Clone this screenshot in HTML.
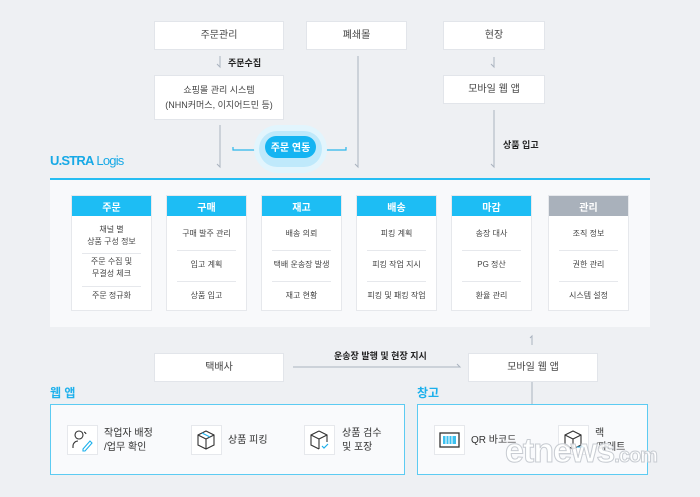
<!DOCTYPE html>
<html><head><meta charset="utf-8"><style>
*{margin:0;padding:0;box-sizing:border-box}
body{width:700px;height:497px;background:#eef0f3;position:relative;overflow:hidden;font-family:"Liberation Sans","Noto Sans CJK KR",sans-serif;color:#333}
.a{position:absolute}
.box{position:absolute;background:#fff;border:1px solid #e2e5ea;display:flex;align-items:center;justify-content:center;text-align:center;font-size:10px;color:#444;line-height:15px}
.lbl{position:absolute;font-size:9px;font-weight:bold;color:#222;white-space:nowrap}
.col{position:absolute;top:195px;width:81px;height:116px;background:#fff;border:1px solid #e6e8ec}
.col .h{height:20px;background:#1dbdf4;color:#fff;font-size:10px;font-weight:bold;display:flex;align-items:center;justify-content:center}
.col .r{position:absolute;left:10px;right:10px;text-align:center;font-size:8px;color:#444;line-height:12px;display:flex;align-items:center;justify-content:center}
.col .sep{position:absolute;left:10px;right:10px;border-top:1px solid #e6e8ec}
.ic{position:absolute;top:425px;width:31px;height:30px;background:#fff;border:1px solid #e6e8ec}
.it{position:absolute;font-size:10px;color:#333;line-height:14px;white-space:nowrap}
</style></head><body>
<svg class="a" style="left:0;top:0" width="700" height="497">
<g stroke="#aab3bf" stroke-width="1" fill="none">
<path d="M220 56V67l-3-3"/>
<path d="M220 125V167l-3-3"/>
<path d="M358 56V167l-3-3"/>
<path d="M494 57V67l-3-3"/>
<path d="M494 110V167l-3-3"/>
<path d="M293 367H460l-3-3"/>
<path d="M532 345V336l-2 2"/>
<path d="M532 382V405"/>
</g>
<g stroke="#2bb6ea" stroke-width="1.2" fill="none">
<path d="M233 147v3H346v-3"/>
<path d="M162 441H183l-3-2"/>
<path d="M275 441H297l-3-2"/>
<path d="M529 441H550l-3-2"/>
</g>
<rect x="254" y="125" width="73" height="48" rx="24" fill="#e2f5fd"/>
<rect x="259" y="131" width="63" height="36" rx="18" fill="#bfe9fb"/>
<rect x="265" y="136" width="51" height="22" rx="11" fill="#14b4f2"/>
<text x="290.5" y="151" font-size="10" font-weight="bold" fill="#fff" text-anchor="middle" font-family="Liberation Sans,Noto Sans CJK KR,sans-serif">주문 연동</text>
</svg>
<div class="box" style="left:154px;top:21px;width:130px;height:29px">주문관리</div>
<div class="box" style="left:306px;top:21px;width:101px;height:29px">폐쇄몰</div>
<div class="box" style="left:443px;top:21px;width:102px;height:29px">현장</div>
<div class="lbl" style="left:228px;top:56px">주문수집</div>
<div class="box" style="left:154px;top:75px;width:130px;height:45px;font-size:9px">쇼핑몰 관리 시스템<br>(NHN커머스, 이지어드민 등)</div>
<div class="box" style="left:443px;top:75px;width:102px;height:29px">모바일 웹 앱</div>
<div class="lbl" style="left:503px;top:138px">상품 입고</div>
<div class="a" style="left:50px;top:153px;font-size:13px;color:#17a9e6;letter-spacing:-0.8px;white-space:nowrap"><b>U.STRA</b> Logis</div>
<div class="a" style="left:50px;top:178px;width:600px;height:149px;background:#f8f9fb;border-top:2px solid #26bdf2"></div>

<div class="col" style="left:71px"><div class="h">주문</div>
<div class="r" style="top:28px;height:24px">채널 별<br>상품 구성 정보</div><div class="sep" style="top:57px"></div>
<div class="r" style="top:60px;height:24px">주문 수집 및<br>무결성 체크</div><div class="sep" style="top:90px"></div>
<div class="r" style="top:92px;height:16px">주문 정규화</div></div>
<div class="col" style="left:166px"><div class="h">구매</div>
<div class="r" style="top:30px;height:16px">구매 발주 관리</div><div class="sep" style="top:54px"></div>
<div class="r" style="top:61px;height:16px">입고 계획</div><div class="sep" style="top:85px"></div>
<div class="r" style="top:92px;height:16px">상품 입고</div></div>
<div class="col" style="left:261px"><div class="h">재고</div>
<div class="r" style="top:30px;height:16px">배송 의뢰</div><div class="sep" style="top:54px"></div>
<div class="r" style="top:61px;height:16px">택배 운송장 발생</div><div class="sep" style="top:85px"></div>
<div class="r" style="top:92px;height:16px">재고 현황</div></div>
<div class="col" style="left:356px"><div class="h">배송</div>
<div class="r" style="top:30px;height:16px">피킹 계획</div><div class="sep" style="top:54px"></div>
<div class="r" style="top:61px;height:16px">피킹 작업 지시</div><div class="sep" style="top:85px"></div>
<div class="r" style="top:92px;height:16px">피킹 및 패킹 작업</div></div>
<div class="col" style="left:451px"><div class="h">마감</div>
<div class="r" style="top:30px;height:16px">송장 대사</div><div class="sep" style="top:54px"></div>
<div class="r" style="top:61px;height:16px">PG 정산</div><div class="sep" style="top:85px"></div>
<div class="r" style="top:92px;height:16px">환율 관리</div></div>
<div class="col" style="left:548px"><div class="h" style="background:#a9b1bb">관리</div>
<div class="r" style="top:30px;height:16px">조직 정보</div><div class="sep" style="top:54px"></div>
<div class="r" style="top:61px;height:16px">권한 관리</div><div class="sep" style="top:85px"></div>
<div class="r" style="top:92px;height:16px">시스템 설정</div></div>

<div class="box" style="left:154px;top:353px;width:130px;height:29px">택배사</div>
<div class="lbl" style="left:334px;top:349px">운송장 발행 및 현장 지시</div>
<div class="box" style="left:468px;top:353px;width:130px;height:29px">모바일 웹 앱</div>

<div class="a" style="left:50px;top:384px;font-size:12px;font-weight:bold;color:#1cb0ec">웹 앱</div>
<div class="a" style="left:417px;top:384px;font-size:12px;font-weight:bold;color:#1cb0ec">창고</div>
<div class="a" style="left:50px;top:404px;width:355px;height:71px;background:#f9fafc;border:1.5px solid #5ccbf2"></div>
<div class="a" style="left:417px;top:404px;width:231px;height:71px;background:#f9fafc;border:1.5px solid #5ccbf2"></div>

<div class="ic" style="left:67px"><svg width="29" height="28"><g fill="none" stroke="#333" stroke-width="1.1"><circle cx="11" cy="9" r="4"/><path d="M5 22v-2a5 5 0 0 1 5-5"/><path d="M16 6a3 3 0 0 1 2 2"/></g><path d="M15 23l7-8 2 2-7 8h-2z" fill="none" stroke="#1cb0ec" stroke-width="1.1"/></svg></div>
<div class="it" style="left:104px;top:427px">작업자 배정<br>/업무 확인</div>
<div class="ic" style="left:191px"><svg width="29" height="28"><g fill="none" stroke="#333" stroke-width="1.1"><path d="M14 5l8 4v10l-8 4-8-4V9z"/><path d="M6 9l8 4 8-4M14 13v10"/></g><path d="M10 7l8 4" stroke="#1cb0ec"/></svg></div>
<div class="it" style="left:228px;top:434px">상품 피킹</div>
<div class="ic" style="left:304px"><svg width="29" height="28"><g fill="none" stroke="#333" stroke-width="1.1"><path d="M14 5l8 4v7M14 23l-8-4V9l8-4"/><path d="M6 9l8 4 8-4M14 13v10"/></g><path d="M17 20l2 2 4-4" fill="none" stroke="#1cb0ec" stroke-width="1.2"/></svg></div>
<div class="it" style="left:342px;top:427px">상품 검수<br>및 포장</div>
<div class="ic" style="left:434px"><svg width="29" height="28"><rect x="5" y="7" width="19" height="14" fill="none" stroke="#333" stroke-width="1.3"/><rect x="8" y="10" width="13" height="8" fill="#3cc1f0"/><g stroke="#fff" stroke-width="1"><path d="M11 10v8M14 10v8M17 10v8"/></g></svg></div>
<div class="it" style="left:471px;top:434px">QR 바코드</div>
<div class="ic" style="left:558px"><svg width="29" height="28"><g fill="none" stroke="#333" stroke-width="1.1"><path d="M14 5l8 4v10l-8 4-8-4V9z"/><path d="M6 9l8 4 8-4M14 13v10"/></g><path d="M18 21h6l-2-2" fill="none" stroke="#1cb0ec"/></svg></div>
<div class="it" style="left:595px;top:427px">랙<br>/파레트</div>

<div class="a" style="left:505px;top:432px;font-size:34px;font-weight:bold;color:rgba(255,255,255,0.85);-webkit-text-stroke:1px #c8ccd2;letter-spacing:-1px">etnews<span style="font-size:20px">.com</span></div>
</body></html>
